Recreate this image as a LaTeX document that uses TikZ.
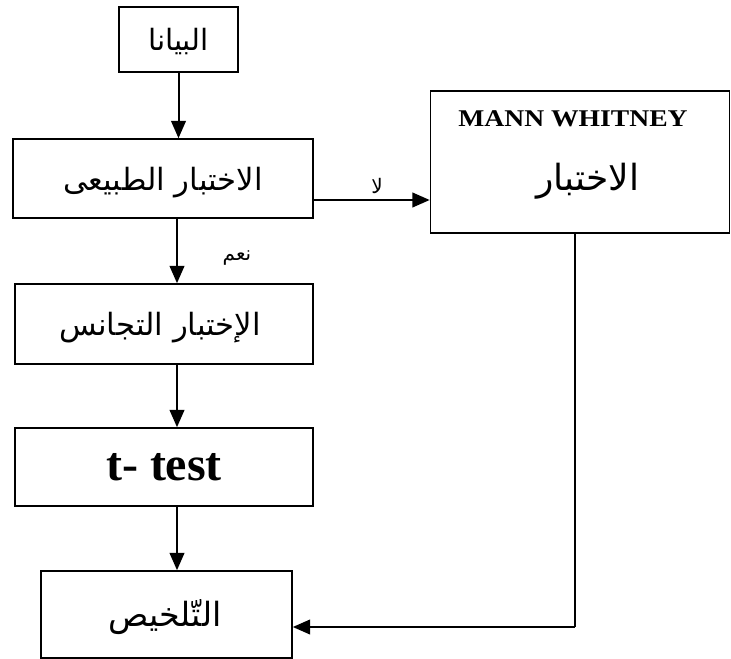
\documentclass[tikz,border=0pt]{standalone}
\usepackage{fontspec}
\usepackage{graphicx}
\setmainfont{Liberation Serif}
\newfontfamily\arabicfont[Script=Arabic]{DejaVu Sans}
\TeXXeTstate=1
\usetikzlibrary{arrows.meta}
\tikzset{
  box/.style={draw=black, line width=1.2pt, fill=white, inner sep=0pt, anchor=center},
  flow/.style={line width=1.5pt, -{Triangle[length=13pt,width=11pt]}},
  plain/.style={line width=1.5pt},
  ar/.style={font=\arabicfont\fontsize{23}{26}\selectfont},
  arsmall/.style={font=\arabicfont\fontsize{15}{17}\selectfont},
}
\begin{document}
\begin{tikzpicture}[x=0.75pt,y=-0.75pt]
\useasboundingbox (0,0) rectangle (731,659);
% boxes
\node[box, minimum width=119*0.75pt, minimum height=65*0.75pt] (b1) at (178.5,39.5) {};
\node[box, minimum width=300*0.75pt, minimum height=79*0.75pt] (b2) at (163,178.5) {};
\node[box, minimum width=299*0.75pt, minimum height=142*0.75pt] (b3) at (580,162) {};
\node[box, minimum width=298*0.75pt, minimum height=80*0.75pt] (b4) at (164,324) {};
\node[box, minimum width=298*0.75pt, minimum height=78*0.75pt] (b5) at (164,467) {};
\node[box, minimum width=251*0.75pt, minimum height=87*0.75pt] (b6) at (166.5,614.5) {};
% texts
\node[ar, font=\arabicfont\fontsize{22}{25}\selectfont] (t1) at (178.5,42) {\beginR البيانا\endR};
\node[ar] (t2) at (163,183) {\beginR الاختبار الطبيعى\endR};
\node[font=\bfseries\fontsize{18}{21}\selectfont] (t3a) at (573,119) {\scalebox{1.15}[1]{MANN WHITNEY}};
\node[ar, font=\arabicfont\fontsize{27}{30}\selectfont] (t3b) at (588,181) {\beginR الاختبار\endR};
\node[ar] (t4) at (160,328) {\beginR الإختبار التجانس\endR};
\node[font=\bfseries\fontsize{36}{40}\selectfont] (t5) at (164,467) {t- test};
\node[ar, font=\arabicfont\fontsize{25}{28}\selectfont] (t6) at (165,617) {\beginR التّلخيص\endR};
\node[arsmall] (lno) at (377,186) {\beginR لا\endR};
\node[arsmall] (lyes) at (237,258) {\beginR نعم\endR};
% connectors
\coordinate (cx) at (177,0);
\coordinate (cy) at (0,200);
\coordinate (turn) at (575,627);
\draw[flow] (b1.south) -- (b1.south |- b2.north);
\draw[flow] (b2.south -| cx) -- (b4.north -| cx);
\draw[flow] (b4.south -| cx) -- (b5.north -| cx);
\draw[flow] (b5.south -| cx) -- (b6.north -| cx);
\draw[flow] (b2.east |- cy) -- (b3.west |- cy);
\draw[plain] (b3.south -| turn) -- (turn);
\draw[flow] (turn) -- (b6.east |- turn);
\end{tikzpicture}
\end{document}
